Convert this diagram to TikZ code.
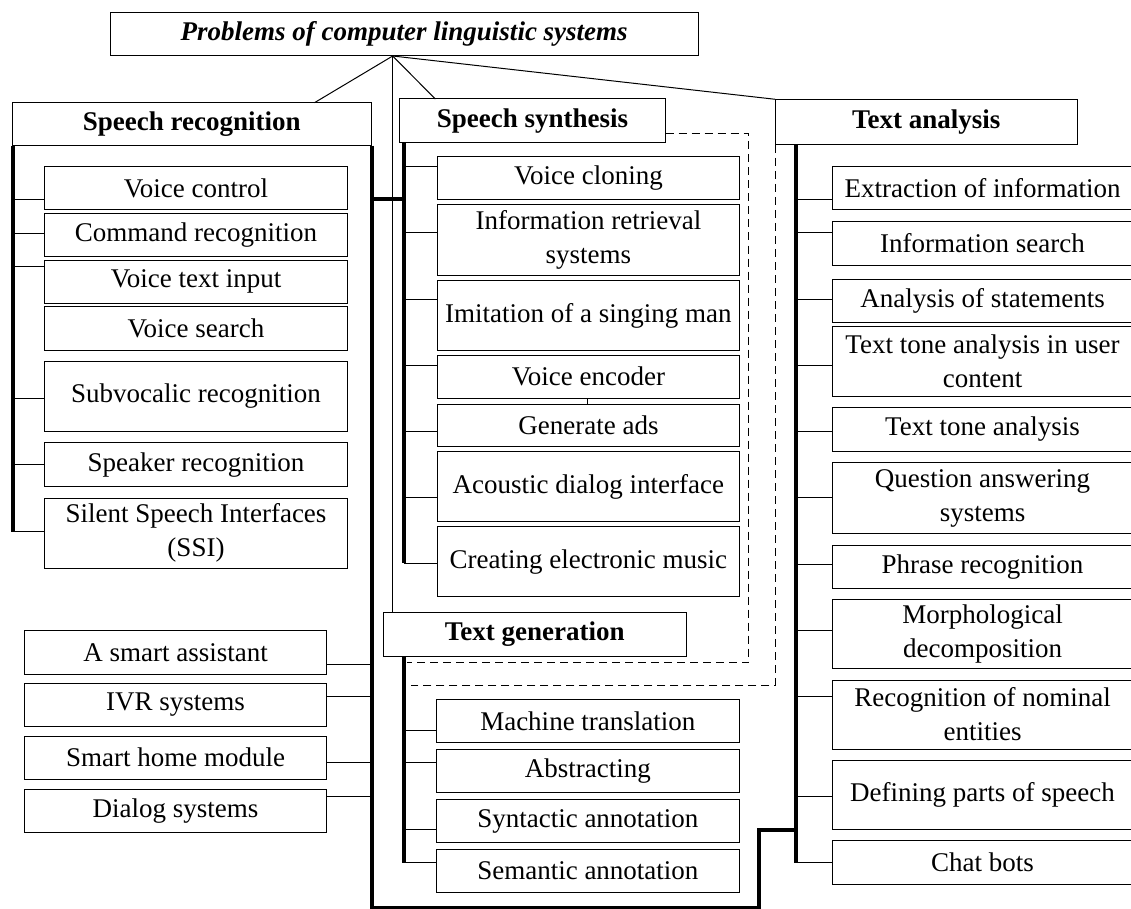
\documentclass[tikz,border=0pt]{standalone}
\usepackage{fontspec}
\setmainfont{Liberation Serif}
\newcommand\mybox[7][box]{\node[#1, minimum width={(#5-#3)*1pt}, minimum height={(#6-#4)*1pt}] (#2) at ({(#3+#5)/2},{(#4+#6)/2}) {#7};}
\newcommand\brl[3]{\draw[thinl] (#1 |- 0,#3) -- (#2.west |- 0,#3);}
\tikzset{
  box/.style={draw, line width=1pt, inner sep=0pt, outer sep=0pt, align=center, font=\fontsize{27}{34}\selectfont},
  hdr/.style={box, font=\fontsize{27}{34}\selectfont\bfseries},
  ttl/.style={box, font=\fontsize{27}{34}\selectfont\bfseries\itshape},
  thk/.style={line width=4pt},
  thinl/.style={line width=1pt},
  dsh/.style={line width=1pt, dash pattern=on 8pt off 5pt}
}
\begin{document}
\begin{tikzpicture}[x=1pt,y=-1pt]
\useasboundingbox (0,0) rectangle (1131,909);
\clip (0,0) rectangle (1131,909);
\fill[white] (0,0) rectangle (1131,909);
% headers
\mybox[ttl]{title}{110.2}{12.7}{698.2}{56}{Problems of computer linguistic systems}
\mybox[hdr]{sr}{12}{102.7}{371.6}{145.7}{Speech recognition}
\mybox[hdr]{ss}{399.3}{99}{665.5}{142.7}{Speech synthesis}
\mybox[hdr]{ta}{775.3}{99.3}{1077}{145}{Text analysis}
\mybox[hdr]{tg}{383.3}{612.7}{686}{656}{Text generation}
% connectors from title
\coordinate (conv) at (392.7,56);
\draw[thinl] (conv) -- (314.5,102.7);
\draw[thinl] (conv) -- (435.3,99);
\draw[thinl] (conv) -- (ta.north west);
\draw[thinl] (conv) -- (tg.north west -| conv);
% trunk coordinates
\coordinate (srl) at (12.7,145.7);
\coordinate (srr) at (371.6,145.7);
\coordinate (ssl) at (404.4,142.7);
\coordinate (tgl) at (404.4,656);
\coordinate (tal) at (795.6,145);
\coordinate (bl) at (371.6,907.5);
\coordinate (br) at (759.3,907.5);
\coordinate (bj) at (759.3,829.5);
% dashed frames
\draw[dsh] (ss.east |- 0,133.3) -- (748.3,133.3) -- (748.3,662.7) -- (406.5,662.7);
\draw[dsh] (ta.south west) -- (775.3,685) -- (411,685);
% speech recognition items
\mybox{vc}{44.7}{166.7}{347.3}{210}{Voice control}
\mybox{cr}{44.7}{213.3}{347.3}{256.7}{Command recognition}
\mybox{vti}{44.7}{260}{347.3}{303.3}{Voice text input}
\mybox{vs}{44.7}{306}{347.3}{350}{Voice search}
\mybox{sub}{44.7}{361}{347.3}{431.7}{Subvocalic recognition}
\mybox{spk}{44.7}{442.7}{347.3}{486.7}{Speaker recognition}
\mybox{ssi}{44.7}{498.3}{347.3}{568.3}{Silent Speech Interfaces\\(SSI)}
\brl{srl}{vc}{199.3}
\brl{srl}{cr}{233.3}
\brl{srl}{vti}{266}
\brl{srl}{sub}{398.3}
\brl{srl}{spk}{464.3}
\brl{srl}{ssi}{531.7}
% left bottom items
\mybox{sa}{24.7}{630.7}{326.5}{674}{A smart assistant}
\mybox{ivr}{24.7}{683.3}{326.5}{726.7}{IVR systems}
\mybox{shm}{24.7}{736}{326.5}{779.3}{Smart home module}
\mybox{ds}{24.7}{789}{326.5}{832.3}{Dialog systems}
\draw[thinl] (sa.east |- 0,664) -- (srr |- 0,664);
\draw[thinl] (ivr.east |- 0,696.7) -- (srr |- 0,696.7);
\draw[thinl] (shm.east |- 0,762.7) -- (srr |- 0,762.7);
\draw[thinl] (ds.east |- 0,796) -- (srr |- 0,796);
% speech synthesis items
\mybox{vcl}{437.3}{156.7}{739.5}{200}{Voice cloning}
\mybox{irs}{437.3}{205}{739.5}{275}{Information retrieval\\systems}
\mybox{ims}{437.3}{280.7}{739.5}{350.7}{Imitation of a singing man}
\mybox{ve}{437.3}{355.3}{739.5}{398.3}{Voice encoder}
\mybox{ga}{437.3}{404}{739.5}{446.7}{Generate ads}
\mybox{adi}{437.3}{451.7}{739.5}{521.7}{Acoustic dialog interface}
\mybox{cem}{437.3}{526.7}{739.5}{596.7}{Creating electronic music}
\brl{ssl}{vcl}{166.7}
\brl{ssl}{irs}{232.7}
\brl{ssl}{ims}{299}
\brl{ssl}{ve}{365}
\brl{ssl}{ga}{431.7}
\brl{ssl}{adi}{497.3}
\brl{ssl}{cem}{563.3}
\draw[thinl] (ve.south -| 587.7,0) -- (ga.north -| 587.7,0);
% text generation items
\mybox{mt}{436.7}{699.3}{739}{742.7}{Machine translation}
\mybox{ab}{436.7}{749.3}{739}{792.7}{Abstracting}
\mybox{sya}{436.7}{799.3}{739}{842.7}{Syntactic annotation}
\mybox{sea}{436.7}{849.3}{739}{892}{Semantic annotation}
\brl{tgl}{mt}{730}
\brl{tgl}{ab}{762.7}
\brl{tgl}{sya}{829.3}
\brl{tgl}{sea}{862.7}
% text analysis items
\mybox{ei}{832}{166.7}{1133}{210}{Extraction of information}
\mybox{is}{832}{221.7}{1133}{265}{Information search}
\mybox{as}{832}{279.3}{1133}{322.7}{Analysis of statements}
\mybox{ttu}{832}{326}{1133}{396.7}{Text tone analysis in user\\content}
\mybox{tt}{832}{407.7}{1133}{451}{Text tone analysis}
\mybox{qa}{832}{462.7}{1133}{533.3}{Question answering\\systems}
\mybox{pr}{832}{545}{1133}{588.3}{Phrase recognition}
\mybox{md}{832}{599.3}{1133}{668.3}{Morphological\\decomposition}
\mybox{rne}{832}{680}{1133}{749}{Recognition of nominal\\entities}
\mybox{dps}{832}{760.7}{1133}{829.3}{Defining parts of speech}
\mybox{cb}{832}{840.7}{1133}{884}{Chat bots}
\brl{tal}{ei}{199.3}
\brl{tal}{is}{232.7}
\brl{tal}{as}{299.3}
\brl{tal}{ttu}{365}
\brl{tal}{tt}{431.7}
\brl{tal}{qa}{497.7}
\brl{tal}{pr}{564.3}
\brl{tal}{md}{630}
\brl{tal}{rne}{696.7}
\brl{tal}{dps}{796}
\brl{tal}{cb}{862.7}
% thick trunks
\draw[thk] (srl) -- (12.7,531.7);
\draw[thk] (srr) -- (bl) -- (br) -- (bj) -- (bj -| tal);
\draw[thk] (ssl) -- (404.4,563.3);
\draw[thk] (tgl) -- (404.4,862.7);
\draw[thk] (tal) -- (795.6,862.7);
\draw[thk] (srr |- 0,199.3) -- (ssl |- 0,199.3);
\end{tikzpicture}
\end{document}
